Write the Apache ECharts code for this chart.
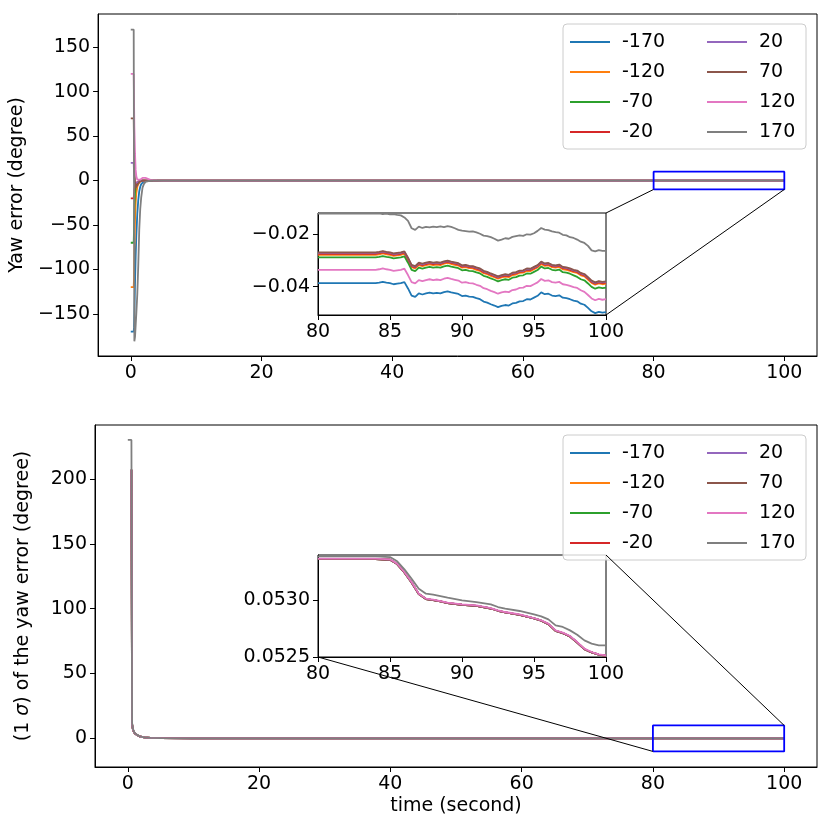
<!DOCTYPE html>
<html>
<head>
    <meta charset="UTF-8">
    <title>Yaw error</title>
    <script src="https://cdn.jsdelivr.net/npm/echarts@6/dist/echarts.min.js"></script>
    <style>
        body { margin: 0; background: #fff; }
        #main { width: 830px; height: 831px; }
    </style>
</head>
<body>
<div id="main"></div>
<script>
    // ---- data ----
    const NAMES = ['-170', '-120', '-70', '-20', '20', '70', '120', '170']
    const COLORS = ['#1f77b4', '#ff7f0e', '#2ca02c', '#d62728', '#9467bd', '#8c564b', '#e377c2', '#7f7f7f']

    const xTicks = [0, 20, 40, 60, 80, 100]
    const yawTicks = [-150, -100, -50, 0, 50, 100, 150]
    const sigTicks = [0, 50, 100, 150, 200]
    const insetXTicks = [80, 85, 90, 95, 100]
    const yawInsetTicks = [-0.04, -0.02]
    const sigInsetTicks = [0.0525, 0.0530]

    // zoomed window drawn as the blue box
    const zoomBoxX = [80, 100, 100, 80, 80]
    const zoomBoxY = [-10, -10, 10, 10, -10]

    // yaw error, start transient (t < 80)
    const tMain = [0, 0.45, 0.5, 0.55, 0.65, 0.75, 0.85, 1.0, 1.15, 1.3, 1.45, 1.6, 1.8, 2.0, 2.25, 2.5, 3.0, 3.5, 4.0, 5.0, 7.0, 10, 15, 20, 30, 40, 50, 60, 70]
    const yawMainM170 = [-170, -170, -165, -150, -115, -85, -62, -37, -22, -12, -7, -4, -2, -1, -0.4, -0.2, -0.1, -0.06, -0.05, -0.045, -0.042, -0.04, -0.04, -0.039, -0.039, -0.039, -0.039, -0.039, -0.039]
    const yawMainM120 = [-120, -120, -110, -80, -45, -25, -14, -7, -4, -2, -1, -0.5, -0.2, -0.1, -0.05, -0.04, -0.03, -0.03, -0.03, -0.028, -0.028, -0.028, -0.028, -0.028, -0.028, -0.028, -0.028, -0.028, -0.028]
    const yawMainM70 = [-70, -70, -55, -30, -14, -8, -5, -3, -1.5, -0.8, -0.4, -0.2, -0.1, -0.05, -0.04, -0.035, -0.03, -0.03, -0.029, -0.029, -0.029, -0.029, -0.029, -0.029, -0.029, -0.029, -0.029, -0.029, -0.029]
    const yawMainM20 = [-20, -20, -15, -10, -6, -4, -2.5, -1.5, -0.8, -0.4, -0.2, -0.1, -0.05, -0.03, -0.0275, -0.0275, -0.0275, -0.0275, -0.0275, -0.0275, -0.0275, -0.0275, -0.0275, -0.0275, -0.0275, -0.0275, -0.0275, -0.0275, -0.0275]
    const yawMainP20 = [20, 20, 10, 2, -3, -4, -3, -2, -1, -0.5, -0.2, -0.1, -0.05, -0.03, -0.0272, -0.0272, -0.0272, -0.0272, -0.0272, -0.0272, -0.0272, -0.0272, -0.0272, -0.0272, -0.0272, -0.0272, -0.0272, -0.0272, -0.0272]
    const yawMainP70 = [70, 70, 40, 15, -2, -8, -7, -5, -3, -1.5, -0.5, 0, 0.2, 0.1, 0.05, 0, -0.02, -0.027, -0.027, -0.027, -0.027, -0.027, -0.027, -0.027, -0.027, -0.027, -0.027, -0.027, -0.027]
    const yawMainP120 = [120, 120, 90, 60, 30, 12, 5, 1, 0, 0.3, 1, 2, 3, 3.5, 3, 2, 0.8, 0.3, 0.1, 0, -0.03, -0.0336, -0.0336, -0.0336, -0.0336, -0.0336, -0.0336, -0.0336, -0.0336]
    const yawMainP170 = [170, 170, -5, -181, -176, -163, -150, -128, -95, -55, -32, -19, -8, -4, -1.5, -0.6, -0.2, -0.1, -0.05, -0.03, -0.015, -0.0123, -0.0123, -0.0123, -0.0123, -0.0123, -0.0123, -0.0123, -0.0123]

    // yaw error, 80..100 s (flat until 84, then every 0.25 s)
    const tZoom = [80, 82,
        84, 84.25, 84.5, 84.75, 85, 85.25, 85.5, 85.75, 86, 86.25, 86.5, 86.75, 87, 87.25, 87.5, 87.75,
        88, 88.25, 88.5, 88.75, 89, 89.25, 89.5, 89.75, 90, 90.25, 90.5, 90.75, 91, 91.25, 91.5, 91.75,
        92, 92.25, 92.5, 92.75, 93, 93.25, 93.5, 93.75, 94, 94.25, 94.5, 94.75, 95, 95.25, 95.5, 95.75,
        96, 96.25, 96.5, 96.75, 97, 97.25, 97.5, 97.75, 98, 98.25, 98.5, 98.75, 99, 99.25, 99.5, 99.75, 100]
    const yawZoomM170 = [-0.0387, -0.0387,
        -0.0387, -0.0385, -0.0382, -0.0385, -0.0387, -0.0391, -0.0389, -0.0387, -0.0383, -0.0407, -0.0434, -0.0439, -0.0426, -0.0430, -0.0426, -0.0423,
        -0.0426, -0.0424, -0.0426, -0.0421, -0.0418, -0.0422, -0.0425, -0.0428, -0.0436, -0.0434, -0.0438, -0.0439, -0.0444, -0.0448, -0.0457, -0.0461,
        -0.0467, -0.0472, -0.0478, -0.0473, -0.0470, -0.0472, -0.0464, -0.0462, -0.0456, -0.0455, -0.0448, -0.0449, -0.0442, -0.0435, -0.0422, -0.0429,
        -0.0427, -0.0434, -0.0436, -0.0433, -0.0442, -0.0444, -0.0448, -0.0453, -0.0456, -0.0465, -0.0469, -0.0481, -0.0494, -0.0501, -0.0496, -0.0499, -0.0497]
    const yawZoomM120 = [-0.0279, -0.0279,
        -0.0279, -0.0277, -0.0274, -0.0277, -0.0279, -0.0283, -0.0281, -0.0279, -0.0275, -0.0299, -0.0326, -0.0331, -0.0318, -0.0322, -0.0318, -0.0315,
        -0.0318, -0.0316, -0.0318, -0.0313, -0.0310, -0.0314, -0.0317, -0.0320, -0.0328, -0.0326, -0.0330, -0.0331, -0.0336, -0.0340, -0.0349, -0.0353,
        -0.0359, -0.0364, -0.0370, -0.0365, -0.0362, -0.0364, -0.0356, -0.0354, -0.0348, -0.0347, -0.0340, -0.0341, -0.0334, -0.0327, -0.0314, -0.0321,
        -0.0319, -0.0326, -0.0328, -0.0325, -0.0334, -0.0336, -0.0340, -0.0345, -0.0348, -0.0357, -0.0361, -0.0373, -0.0386, -0.0393, -0.0388, -0.0391, -0.0389]
    const yawZoomM70 = [-0.0289, -0.0289,
        -0.0289, -0.0287, -0.0284, -0.0287, -0.0289, -0.0293, -0.0291, -0.0289, -0.0285, -0.0309, -0.0336, -0.0341, -0.0328, -0.0332, -0.0328, -0.0325,
        -0.0328, -0.0326, -0.0328, -0.0323, -0.0320, -0.0324, -0.0327, -0.0330, -0.0338, -0.0336, -0.0340, -0.0341, -0.0346, -0.0350, -0.0359, -0.0363,
        -0.0369, -0.0374, -0.0380, -0.0375, -0.0372, -0.0374, -0.0366, -0.0364, -0.0358, -0.0357, -0.0350, -0.0351, -0.0344, -0.0337, -0.0324, -0.0331,
        -0.0329, -0.0336, -0.0338, -0.0335, -0.0345, -0.0347, -0.0351, -0.0357, -0.0363, -0.0372, -0.0376, -0.0388, -0.0401, -0.0408, -0.0403, -0.0406, -0.0404]
    const yawZoomM20 = [-0.0275, -0.0275,
        -0.0275, -0.0273, -0.0270, -0.0273, -0.0275, -0.0279, -0.0277, -0.0275, -0.0271, -0.0295, -0.0322, -0.0327, -0.0314, -0.0318, -0.0314, -0.0311,
        -0.0314, -0.0312, -0.0314, -0.0309, -0.0306, -0.0310, -0.0313, -0.0316, -0.0324, -0.0322, -0.0326, -0.0327, -0.0332, -0.0336, -0.0345, -0.0349,
        -0.0355, -0.0360, -0.0366, -0.0361, -0.0358, -0.0360, -0.0352, -0.0350, -0.0344, -0.0343, -0.0336, -0.0337, -0.0330, -0.0323, -0.0310, -0.0317,
        -0.0315, -0.0322, -0.0324, -0.0321, -0.0330, -0.0332, -0.0336, -0.0341, -0.0344, -0.0353, -0.0357, -0.0369, -0.0382, -0.0389, -0.0384, -0.0387, -0.0385]
    const yawZoomP20 = [-0.0272, -0.0272,
        -0.0272, -0.0270, -0.0267, -0.0270, -0.0272, -0.0276, -0.0274, -0.0272, -0.0268, -0.0292, -0.0319, -0.0324, -0.0311, -0.0315, -0.0311, -0.0308,
        -0.0311, -0.0309, -0.0311, -0.0306, -0.0303, -0.0307, -0.0310, -0.0313, -0.0321, -0.0319, -0.0323, -0.0324, -0.0329, -0.0333, -0.0342, -0.0346,
        -0.0352, -0.0357, -0.0363, -0.0358, -0.0355, -0.0357, -0.0349, -0.0347, -0.0341, -0.0340, -0.0333, -0.0334, -0.0327, -0.0320, -0.0307, -0.0314,
        -0.0312, -0.0319, -0.0321, -0.0318, -0.0327, -0.0329, -0.0333, -0.0338, -0.0341, -0.0350, -0.0354, -0.0366, -0.0379, -0.0386, -0.0381, -0.0384, -0.0382]
    const yawZoomP70 = [-0.0270, -0.0270,
        -0.0270, -0.0268, -0.0265, -0.0268, -0.0270, -0.0274, -0.0272, -0.0270, -0.0266, -0.0290, -0.0317, -0.0322, -0.0309, -0.0313, -0.0309, -0.0306,
        -0.0309, -0.0307, -0.0309, -0.0304, -0.0301, -0.0305, -0.0308, -0.0311, -0.0319, -0.0317, -0.0321, -0.0322, -0.0327, -0.0331, -0.0340, -0.0344,
        -0.0350, -0.0355, -0.0361, -0.0356, -0.0353, -0.0355, -0.0347, -0.0345, -0.0339, -0.0338, -0.0331, -0.0332, -0.0325, -0.0318, -0.0305, -0.0312,
        -0.0310, -0.0317, -0.0319, -0.0316, -0.0325, -0.0327, -0.0331, -0.0336, -0.0339, -0.0348, -0.0352, -0.0364, -0.0377, -0.0384, -0.0379, -0.0382, -0.0380]
    const yawZoomP120 = [-0.0336, -0.0336,
        -0.0336, -0.0334, -0.0331, -0.0334, -0.0336, -0.0340, -0.0338, -0.0336, -0.0332, -0.0356, -0.0383, -0.0388, -0.0375, -0.0379, -0.0375, -0.0372,
        -0.0375, -0.0373, -0.0375, -0.0370, -0.0367, -0.0371, -0.0374, -0.0377, -0.0385, -0.0383, -0.0387, -0.0388, -0.0393, -0.0397, -0.0406, -0.0410,
        -0.0416, -0.0421, -0.0427, -0.0422, -0.0419, -0.0421, -0.0413, -0.0411, -0.0405, -0.0404, -0.0397, -0.0398, -0.0391, -0.0384, -0.0371, -0.0378,
        -0.0376, -0.0383, -0.0385, -0.0382, -0.0391, -0.0393, -0.0397, -0.0402, -0.0405, -0.0414, -0.0420, -0.0432, -0.0445, -0.0452, -0.0447, -0.0450, -0.0448]
    const yawZoomP170 = [-0.0122, -0.0122,
        -0.0122, -0.0121, -0.0124, -0.0122, -0.0125, -0.0124, -0.0127, -0.0129, -0.0137, -0.0150, -0.0178, -0.0184, -0.0172, -0.0177, -0.0173, -0.0175,
        -0.0172, -0.0174, -0.0171, -0.0174, -0.0170, -0.0173, -0.0178, -0.0184, -0.0187, -0.0189, -0.0191, -0.0190, -0.0194, -0.0199, -0.0206, -0.0208,
        -0.0212, -0.0218, -0.0225, -0.0221, -0.0216, -0.0218, -0.0211, -0.0208, -0.0205, -0.0207, -0.0201, -0.0202, -0.0197, -0.0188, -0.0177, -0.0183,
        -0.0185, -0.0190, -0.0193, -0.0195, -0.0203, -0.0205, -0.0212, -0.0215, -0.0221, -0.0229, -0.0234, -0.0245, -0.0262, -0.0266, -0.0261, -0.0264, -0.0264]

    // 1 sigma of the yaw error, start transient (t < 80)
    const tSigMain = [0, 0.55, 0.65, 0.75, 0.9, 1.1, 1.4, 1.8, 2.5, 3.5, 5, 10, 20, 40, 60, 70]
    const sigMainOthers = [null, 207, 11, 7.5, 5.2, 3.6, 2.4, 1.5, 0.75, 0.38, 0.19, 0.1, 0.07, 0.06, 0.055, 0.054]
    const sigMainP170 = [230, 230, 12, 8, 5.5, 3.8, 2.5, 1.6, 0.8, 0.4, 0.2, 0.1, 0.07, 0.06, 0.055, 0.054]

    // 1 sigma, 80..100 s
    const tSigZoom = [80, 82, 84, 85, 85.5, 86, 86.5, 87, 87.5, 88, 88.5, 89, 90, 91, 92, 92.5, 93, 94, 95, 95.5, 96, 96.5, 97, 97.5, 98, 98.5, 99, 99.5, 100]
    const sigZoomOthers = [0.053364, 0.053364, 0.053364, 0.053358, 0.053320, 0.053246, 0.053158, 0.053055, 0.053011, 0.053002, 0.052990, 0.052975, 0.052961, 0.052952, 0.052928, 0.052908, 0.052893, 0.052872, 0.052840, 0.052820, 0.052790, 0.052731, 0.052711, 0.052681, 0.052628, 0.052570, 0.052540, 0.052520, 0.052511]
    const sigZoomP120 = [0.053368, 0.053368, 0.053368, 0.053362, 0.053324, 0.053250, 0.053162, 0.053059, 0.053015, 0.053006, 0.052994, 0.052979, 0.052965, 0.052956, 0.052932, 0.052912, 0.052897, 0.052876, 0.052844, 0.052824, 0.052794, 0.052735, 0.052715, 0.052685, 0.052632, 0.052574, 0.052544, 0.052524, 0.052515]
    const sigZoomP170 = [0.053388, 0.053388, 0.053388, 0.053382, 0.053344, 0.053274, 0.053191, 0.053103, 0.053059, 0.053050, 0.053038, 0.053024, 0.053000, 0.052985, 0.052965, 0.052941, 0.052926, 0.052906, 0.052876, 0.052859, 0.052832, 0.052779, 0.052765, 0.052735, 0.052697, 0.052647, 0.052618, 0.052603, 0.052603]

    const yawMain = [yawMainM170, yawMainM120, yawMainM70, yawMainM20, yawMainP20, yawMainP70, yawMainP120, yawMainP170]
    const yawZoom = [yawZoomM170, yawZoomM120, yawZoomM70, yawZoomM20, yawZoomP20, yawZoomP70, yawZoomP120, yawZoomP170]
    const sigMain = [sigMainOthers, sigMainOthers, sigMainOthers, sigMainOthers, sigMainOthers, sigMainOthers, sigMainOthers, sigMainP170]
    const sigZoom = [sigZoomOthers, sigZoomOthers, sigZoomOthers, sigZoomOthers, sigZoomOthers, sigZoomOthers, sigZoomP120, sigZoomP170]

    // ---- chart ----
    const FONT = 'DejaVu Sans'
    const FS = 19
    const pairs = (ts, vs) => ts.map((t, i) => [t, vs[i]])
    const minus = v => String(v).replace('-', '\u2212')

    function axis(gridIndex, min, max, ticks, fmt, extra) {
        return Object.assign({
            type: 'value', gridIndex, min, max,
            axisLine: {show: true, onZero: false, lineStyle: {color: '#000', width: 1}},
            axisTick: {show: true, inside: false, length: 5, customValues: ticks, lineStyle: {color: '#000', width: 1}},
            axisLabel: {show: true, customValues: ticks, formatter: fmt, color: '#000', fontSize: FS, fontFamily: FONT},
            splitLine: {show: false},
        }, extra || {})
    }

    function line(name, color, x, y, data, z) {
        return {
            type: 'line', name, xAxisIndex: x, yAxisIndex: y, data,
            showSymbol: false, symbol: 'none', clip: true, z: z || 2,
            itemStyle: {color}, lineStyle: {color, width: 1.8},
        }
    }

    function legends(top) {
        let base = {
            orient: 'vertical', top, padding: 0, itemGap: 10,
            itemWidth: 40, itemHeight: 2, icon: 'rect',
            textStyle: {fontSize: FS, fontFamily: FONT, color: '#000', lineHeight: 20, padding: [0, 0, 0, 7]},
        }
        return [
            Object.assign({left: 570, data: NAMES.slice(0, 4)}, base),
            Object.assign({left: 707, data: NAMES.slice(4)}, base),
        ]
    }

    let series = []
    NAMES.forEach((n, i) => {
        series.push(line(n, COLORS[i], 0, 0, pairs(tMain, yawMain[i]).concat(pairs(tZoom, yawZoom[i]))))
    })
    NAMES.forEach((n, i) => {
        series.push(line(n, COLORS[i], 1, 1, pairs(tSigMain, sigMain[i]).concat(pairs(tSigZoom, sigZoom[i]))))
    })
    NAMES.forEach((n, i) => {
        series.push(line(n, COLORS[i], 2, 2, pairs(tZoom, yawZoom[i])))
    })
    NAMES.forEach((n, i) => {
        series.push(line(n, COLORS[i], 3, 3, pairs(tSigZoom, sigZoom[i])))
    })
    series.push(line('box0', '#0000ff', 0, 0, pairs(zoomBoxX, zoomBoxY), 5))
    series.push(line('box1', '#0000ff', 1, 1, pairs(zoomBoxX, zoomBoxY), 5))

    const gridStyle = {show: true, borderColor: '#000', borderWidth: 1, backgroundColor: '#fff'}
    let option = {
        animation: false,
        backgroundColor: '#fff',
        grid: [
            Object.assign({left: 95, top: 14, width: 722, height: 342}, gridStyle),
            Object.assign({left: 95, top: 425, width: 722, height: 342}, gridStyle),
            Object.assign({left: 318, top: 213, width: 288, height: 102}, gridStyle),
            Object.assign({left: 318, top: 555, width: 288, height: 102}, gridStyle),
        ],
        xAxis: [
            axis(0, -5, 105, xTicks, v => v, {axisLabel: {customValues: xTicks, color: '#000', fontSize: FS, fontFamily: FONT, margin: 8}}),
            axis(1, -5, 105, xTicks, v => v, {
                axisLabel: {customValues: xTicks, color: '#000', fontSize: FS, fontFamily: FONT, margin: 8},
                name: 'time (second)', nameLocation: 'middle', nameGap: 30,
                nameTextStyle: {fontSize: FS, fontFamily: FONT, color: '#000'},
            }),
            axis(2, 80, 100, insetXTicks, v => v),
            axis(3, 80, 100, insetXTicks, v => v),
        ],
        yAxis: [
            axis(0, -197.5, 187.5, yawTicks, minus, {
                name: 'Yaw error (degree)', nameLocation: 'middle', nameGap: 62,
                nameTextStyle: {fontSize: FS, fontFamily: FONT, color: '#000'},
            }),
            axis(1, -22, 241.5, sigTicks, v => v, {
                name: '(1 {i|σ}) of the yaw error (degree)', nameLocation: 'middle', nameGap: 62,
                nameTextStyle: {fontSize: FS, fontFamily: FONT, color: '#000',
                    rich: {i: {fontSize: FS, fontFamily: FONT, fontStyle: 'italic', color: '#000'}}},
            }),
            axis(2, -0.0508, -0.0120, yawInsetTicks, minus),
            axis(3, 0.0525, 0.0534, sigInsetTicks, v => v.toFixed(4)),
        ],
        legend: legends(32).concat(legends(443)),
        series,
    }

    const chart = echarts.init(document.getElementById('main'), null, {renderer: 'canvas'})
    chart.setOption(option)

    // legend frames and inset connector lines, placed through the axes
    const px = (g, pt) => chart.convertToPixel({gridIndex: g}, pt)
    const connect = (g1, a, g2, b) => {
        let p1 = px(g1, a), p2 = px(g2, b)
        return {type: 'line', z: 6, shape: {x1: p1[0], y1: p1[1], x2: p2[0], y2: p2[1]},
            style: {stroke: '#000', lineWidth: 1}}
    }
    const frame = top => ({type: 'rect', z: 3, shape: {x: 563, y: top, width: 243, height: 125, r: 4},
        style: {fill: 'rgba(255,255,255,0.8)', stroke: '#cccccc', lineWidth: 1}})

    chart.setOption({
        graphic: [
            frame(24), frame(435),
            connect(2, [100, -0.0120], 0, [80, -10]),
            connect(2, [100, -0.0508], 0, [100, -10]),
            connect(3, [100, 0.0534], 1, [100, 10]),
            connect(3, [80, 0.0525], 1, [80, -10]),
        ]
    })
</script>
</body>
</html>
